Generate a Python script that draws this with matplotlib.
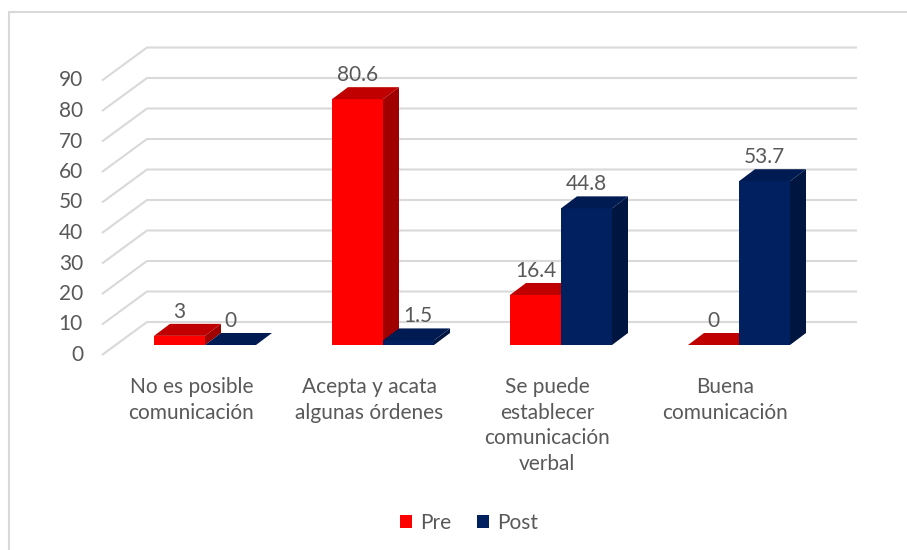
import matplotlib.pyplot as plt
from matplotlib.patches import Polygon, Patch, Rectangle

categories = ["No es posible\ncomunicación", "Acepta y acata\nalgunas órdenes",
              "Se puede\nestablecer\ncomunicación\nverbal", "Buena\ncomunicación"]
pre = [3, 80.6, 16.4, 0]
post = [0, 1.5, 44.8, 53.7]
yticks = [0, 10, 20, 30, 40, 50, 60, 70, 80, 90]
series = [("Pre", pre), ("Post", post)]

# colours: front, top, side
colors = {"Pre": ("#FF0000", "#C00000", "#A00000"),
          "Post": ("#002060", "#001B52", "#001540")}
grid_c = "#d9d9d9"
txt_c = "#595959"
plt.rcParams['font.family'] = ['Lato', 'DejaVu Sans']

W, H = 907, 550
fig = plt.figure(figsize=(W / 100, H / 100), dpi=100)
ax = fig.add_axes([0, 0, 1, 1])
# 1 x unit = one category (178 px), 1 y unit = one percent (3.05 px)
px_x = 178.0
px_y = 3.05
x0_px, y0_px = 205, 355
ax.set_xlim(-x0_px / px_x, (W - x0_px) / px_x)
ax.set_ylim(-(H - y0_px) / px_y, y0_px / px_y)
ax.axis('off')

# depth of the 3d box (front edge -> back wall)
dep_x = 45 / px_x
dep_y = 33 / px_y
left_front = (102 - x0_px) / px_x
right_back = (857 - x0_px) / px_x

for v in yticks:
    ax.plot([left_front, left_front + dep_x, right_back],
            [v, v + dep_y, v + dep_y], color=grid_c, lw=1.5, zorder=1,
            solid_capstyle='butt')
    ax.text((83 - x0_px) / px_x, v, str(v), ha='right', va='center',
            fontsize=15, color=txt_c)

# bars
bw = 51 / px_x
base = 10 / px_y
bdx = 16 / px_x
bdy = 12 / px_y
shift = 0.303 * dep_x
# label nudged right where it would sit on the neighbour's side face
nudge = {(1, "Post"): 9 / px_x}
for i, cat in enumerate(categories):
    for j, (name, vals) in enumerate(series):
        v = vals[i]
        xl = i - bw + j * bw
        xr = xl + bw
        front, top, side = colors[name]
        z = 3 + j
        ax.bar(xl, v, width=bw, bottom=base, align='edge', color=front,
               zorder=z, linewidth=0)
        yt = base + v
        ax.add_patch(Polygon([(xl, yt), (xr, yt), (xr + bdx, yt + bdy),
                              (xl + bdx, yt + bdy)], closed=True,
                             facecolor=top, lw=0, zorder=z))
        ax.add_patch(Polygon([(xr, base), (xr + bdx, base + bdy),
                              (xr + bdx, yt + bdy), (xr, yt)], closed=True,
                             facecolor=side, lw=0, zorder=z))
        ax.text(xl + bw / 2 + nudge.get((i, name), 0), yt + bdy + 12 / px_y,
                f"{v:g}", ha='center', va='center', fontsize=15,
                color=txt_c, zorder=6)
    ax.text(i - shift, -22 / px_y, cat, ha='center', va='top', fontsize=15,
            color=txt_c, linespacing=1.35)

handles = [Patch(facecolor=colors[n][0], label=n) for n, _ in series]
ax.legend(handles=handles, loc='center', ncol=2, frameon=False,
          bbox_to_anchor=(469 / W, 1 - 523 / H), fontsize=15,
          handlelength=0.6, handleheight=0.6, handletextpad=0.4,
          columnspacing=1.2, labelcolor=txt_c)

fig.patches.append(Rectangle((8.5 / W, -0.1), 1.2, 1.1 - 12 / H,
                             transform=fig.transFigure, fill=False,
                             edgecolor=grid_c, lw=1.5))

fig.savefig("out.png", dpi=100)
